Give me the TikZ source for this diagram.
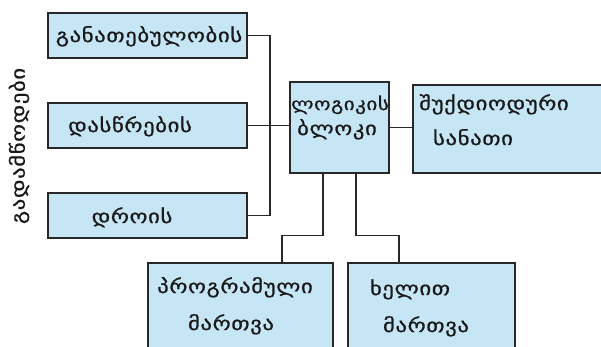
\documentclass[tikz,border=0pt]{standalone}
\usepackage{fontspec}
\newfontfamily\geo[Script=Georgian,FakeStretch=1.2,LetterSpace=3,FakeBold=0.8]{DejaVu Sans}
\definecolor{boxfill}{RGB}{198,229,245}
\definecolor{edge}{RGB}{40,40,40}
\begin{document}
\begin{tikzpicture}[x=1pt,y=-1pt,
  box/.style={draw=edge,fill=boxfill,line width=1.6pt,rectangle,inner sep=0pt},
  wire/.style={draw=edge,line width=1.6pt},
  lbl/.style={font=\geo\fontsize{19}{22}\selectfont,text=black!90,anchor=base,inner sep=0pt}]
\useasboundingbox (0,0) rectangle (601,347);
\clip (0,0) rectangle (601,347);
% boxes
\node[box,minimum width=199pt,minimum height=45pt] (b1) at (147.5,35.5) {};
\node[box,minimum width=199pt,minimum height=45pt] (b2) at (147.5,125.5) {};
\node[box,minimum width=199pt,minimum height=45pt] (b3) at (147.5,215.5) {};
\node[box,minimum width=99pt,minimum height=91pt] (logic) at (339.5,127.5) {};
\node[box,minimum width=192pt,minimum height=88pt] (led) at (509,129) {};
\node[box,minimum width=185pt,minimum height=97pt] (prog) at (240.5,311.5) {};
\node[box,minimum width=167pt,minimum height=97pt] (man) at (431.5,311.5) {};
% connectors
\coordinate (bus) at (270,0);
\coordinate (p1) at (282,235.5);
\coordinate (p2) at (399,235.5);
\coordinate (d1) at (323,0);
\coordinate (d2) at (356,0);
\draw[wire] (b1.east) -- (b1.east -| bus) -- (b3.east -| bus) -- (b3.east);
\draw[wire] (b2.east) -- (b2.east -| logic.west);
\draw[wire] (logic.east) -- (logic.east -| led.west);
\draw[wire] (logic.south -| d1) |- (p1) -- (p1 |- prog.north);
\draw[wire] (logic.south -| d2) |- (p2) -- (p2 |- man.north);
% labels
\node[lbl] (t1) at (149,42) {განათებულობის};
\node[lbl] (t2) at (130,132) {დასწრების};
\node[lbl] (t3) at (132,223) {დროის};
\node[lbl,font=\geo\fontsize{17.5}{20}\selectfont] (t4) at (340,110) {ლოგიკის};
\node[lbl] (t5) at (337,135) {ბლოკი};
\node[lbl] (t6) at (494,110) {შუქდიოდური};
\node[lbl] (t7) at (473,145) {სანათი};
\node[lbl] (t8) at (235,293) {პროგრამული};
\node[lbl] (t9) at (231,330) {მართვა};
\node[lbl] (t10) at (410,295) {ხელით};
\node[lbl] (t11) at (426,332) {მართვა};
\node[lbl,anchor=center,rotate=90] (t12) at (19,146) {გადამწოდები};
\end{tikzpicture}
\end{document}
